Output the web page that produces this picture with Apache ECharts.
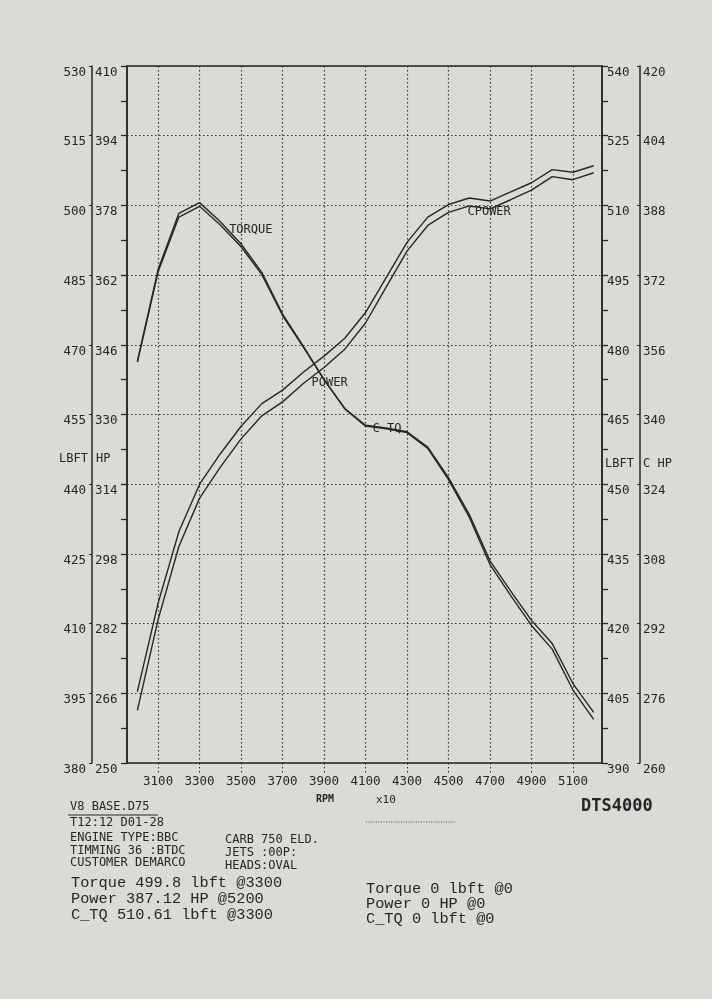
<!DOCTYPE html>
<html>
<head>
<meta charset="utf-8">
<script src="https://cdn.jsdelivr.net/npm/echarts@6/dist/echarts.min.js"></script>
<style>
  html, body { margin: 0; padding: 0; background: #dcdad6; }
  #main { width: 712px; height: 999px; }
</style>
</head>
<body>
<div id="main"></div>
<script>
// dyno run, every 100 rpm
const rpm = [3000, 3100, 3200, 3300, 3400, 3500, 3600, 3700, 3800, 3900, 4000, 4100,
             4200, 4300, 4400, 4500, 4600, 4700, 4800, 4900, 5000, 5100, 5200];
const torque = [466.3, 485.7, 497.5, 499.8, 495.8, 491.1, 485.1, 476.3, 469.5, 462.5, 456.3, 452.7,
                452.1, 451.3, 448.0, 441.4, 433.5, 423.5, 417.0, 410.7, 405.7, 397.1, 390.9];
const power = [266.4, 286.7, 303.1, 314.0, 321.0, 327.3, 332.5, 335.6, 339.7, 343.4, 347.5, 353.4,
               361.5, 369.5, 375.3, 378.2, 379.7, 379.0, 381.1, 383.2, 386.2, 385.6, 387.1];
const cTorque = [476.4, 496.2, 508.3, 510.6, 506.5, 501.7, 495.6, 486.6, 479.7, 472.5, 466.2, 462.5,
                 461.9, 461.1, 457.7, 451.0, 442.9, 432.7, 426.0, 419.6, 414.5, 405.7, 399.4];
const cPower = [272.1, 292.9, 309.7, 320.8, 327.9, 334.4, 339.7, 342.9, 347.1, 350.8, 355.0, 361.0,
                369.3, 377.5, 383.4, 386.4, 387.9, 387.2, 389.3, 391.5, 394.6, 393.9, 395.5];

// axis ticks
const rpmTicks = [3100, 3300, 3500, 3700, 3900, 4100, 4300, 4500, 4700, 4900, 5100];
const lbftLeft = [380, 395, 410, 425, 440, 455, 470, 485, 500, 515, 530];
const hpLeft = [250, 266, 282, 298, 314, 330, 346, 362, 378, 394, 410];
const lbftRight = [390, 405, 420, 435, 450, 465, 480, 495, 510, 525, 540];
const hpRight = [260, 276, 292, 308, 324, 340, 356, 372, 388, 404, 420];
const lbftLeftMinor = [380, 387.5, 395, 402.5, 410, 417.5, 425, 432.5, 440, 447.5, 455,
                       462.5, 470, 477.5, 485, 492.5, 500, 507.5, 515, 522.5, 530];
const lbftRightMinor = [390, 397.5, 405, 412.5, 420, 427.5, 435, 442.5, 450, 457.5, 465,
                        472.5, 480, 487.5, 495, 502.5, 510, 517.5, 525, 532.5, 540];

const ink = '#262626';
const mono = '"DejaVu Sans Mono", monospace';
const courier = '"Liberation Mono", monospace';

function pairs(ys) {
    return rpm.map((r, i) => [r, ys[i]]);
}

function plain(v) {
    return String(v);
}

function curveLabel(text, coord) {
    return {
        symbol: 'rect',
        symbolSize: 1,
        itemStyle: { color: 'rgba(0,0,0,0)' },
        label: { show: true, position: 'right', distance: 0, color: ink, fontFamily: mono, fontSize: 12 },
        data: [{ coord: coord, label: { formatter: text } }]
    };
}

function txt(x, y, text, font, align) {
    return {
        type: 'text', x: x, y: y,
        style: { text: text, font: font, fill: ink, textAlign: align || 'left', textVerticalAlign: 'middle' }
    };
}

const myChart = echarts.init(document.getElementById('main'));

const lineBase = { type: 'line', showSymbol: false, symbol: 'none', silent: true,
                   lineStyle: { color: ink, width: 1.4 } };

myChart.setOption({
    animation: false,
    backgroundColor: '#dcdad6',
    grid: { left: 127, right: 110, top: 66, bottom: 236, show: true,
            borderColor: ink, borderWidth: 1.5, backgroundColor: 'transparent' },
    xAxis: {
        type: 'value', min: 2950, max: 5240,
        axisLine: { show: false },
        axisTick: { show: true, customValues: rpmTicks, length: 10,
                    lineStyle: { color: ink, type: [1.5, 2.5] } },
        axisLabel: { customValues: rpmTicks, formatter: plain, margin: 12, color: ink,
                     fontFamily: mono, fontSize: 12.5 },
        splitLine: { show: true, lineStyle: { color: '#333', width: 1.2, type: [1.5, 2.5] } }
    },
    yAxis: [
        { // LBFT, left
            type: 'value', min: 380, max: 530, position: 'left', offset: 35,
            axisLine: { show: true, lineStyle: { color: ink, width: 1.5 } },
            axisTick: { show: true, customValues: lbftLeft, length: 3, lineStyle: { color: ink } },
            axisLabel: { customValues: lbftLeft, formatter: plain, margin: 6, verticalAlign: 'top', color: ink,
                         fontFamily: mono, fontSize: 12.5 },
            splitLine: { show: true, lineStyle: { color: '#333', width: 1.2, type: [1.5, 2.5] } }
        },
        { // HP, left
            type: 'value', min: 250, max: 410, position: 'left', offset: 35,
            axisLine: { show: false }, axisTick: { show: false },
            axisLabel: { customValues: hpLeft, formatter: plain, inside: true, margin: 3, verticalAlign: 'top',
                         color: ink, fontFamily: mono, fontSize: 12.5 },
            splitLine: { show: false }
        },
        { // plot border ticks, left
            type: 'value', min: 380, max: 530, position: 'left', offset: 0,
            axisLine: { show: true, lineStyle: { color: ink, width: 1.5 } },
            axisTick: { show: true, customValues: lbftLeftMinor, length: 6, lineStyle: { color: ink, width: 1.3 } },
            axisLabel: { show: false }, splitLine: { show: false }
        },
        { // LBFT, right
            type: 'value', min: 390, max: 540, position: 'right', offset: 0,
            axisLine: { show: true, lineStyle: { color: ink, width: 1.5 } },
            axisTick: { show: true, customValues: lbftRightMinor, length: 6, lineStyle: { color: ink, width: 1.3 } },
            axisLabel: { customValues: lbftRight, formatter: plain, margin: 5, verticalAlign: 'top', color: ink,
                         fontFamily: mono, fontSize: 12.5 },
            splitLine: { show: false }
        },
        { // C HP, right
            type: 'value', min: 260, max: 420, position: 'right', offset: 38,
            axisLine: { show: true, lineStyle: { color: ink, width: 1.5 } },
            axisTick: { show: true, customValues: hpRight, inside: true, length: 3, lineStyle: { color: ink } },
            axisLabel: { customValues: hpRight, formatter: plain, margin: 3, verticalAlign: 'top', color: ink,
                         fontFamily: mono, fontSize: 12.5 },
            splitLine: { show: false }
        }
    ],
    series: [
        Object.assign({}, lineBase, { name: 'TORQUE', yAxisIndex: 0, data: pairs(torque),
            markPoint: curveLabel('TORQUE', [3440, 494.7]) }),
        Object.assign({}, lineBase, { name: 'POWER', yAxisIndex: 1, data: pairs(power),
            markPoint: curveLabel('POWER', [3837, 337.3]) }),
        Object.assign({}, lineBase, { name: 'C_TQ', yAxisIndex: 3, data: pairs(cTorque),
            markPoint: curveLabel('C TQ', [4131, 461.8]) }),
        Object.assign({}, lineBase, { name: 'CPOWER', yAxisIndex: 4, data: pairs(cPower),
            markPoint: curveLabel('CPOWER', [4589, 386.4]) })
    ],
    graphic: [
        txt(88, 459, 'LBFT', '12px ' + mono, 'right'),
        txt(96, 459, 'HP', '12px ' + mono),
        txt(605, 464, 'LBFT', '12px ' + mono),
        txt(643, 464, 'C HP', '12px ' + mono),
        txt(316, 799, 'RPM', 'bold 10px ' + mono),
        txt(376, 800, 'x10', '11px ' + mono),
        { type: 'line', shape: { x1: 366, y1: 822, x2: 455, y2: 822 },
          style: { stroke: '#555', lineWidth: 1, lineDash: [1, 1.5] } },
        txt(581, 807, 'DTS4000', 'bold 17px ' + mono),
        txt(70, 807, 'V8 BASE.D75', '12px ' + mono),
        { type: 'line', shape: { x1: 68, y1: 815, x2: 158, y2: 815 },
          style: { stroke: ink, lineWidth: 1.2 } },
        txt(70, 823, 'T12:12 D01-28', '12px ' + mono),
        txt(70, 838, 'ENGINE TYPE:BBC', '12px ' + mono),
        txt(70, 851, 'TIMMING 36 :BTDC', '12px ' + mono),
        txt(70, 863, 'CUSTOMER DEMARCO', '12px ' + mono),
        txt(225, 840, 'CARB 750 ELD.', '12px ' + mono),
        txt(225, 853, 'JETS :00P:', '12px ' + mono),
        txt(225, 866, 'HEADS:OVAL', '12px ' + mono),
        txt(71, 883, 'Torque 499.8 lbft @3300', '15.3px ' + courier),
        txt(71, 899, 'Power 387.12 HP @5200', '15.3px ' + courier),
        txt(71, 915, 'C_TQ 510.61 lbft @3300', '15.3px ' + courier),
        txt(366, 889, 'Torque 0 lbft @0', '15.3px ' + courier),
        txt(366, 904, 'Power 0 HP @0', '15.3px ' + courier),
        txt(366, 919, 'C_TQ 0 lbft @0', '15.3px ' + courier)
    ]
});
</script>
</body>
</html>
